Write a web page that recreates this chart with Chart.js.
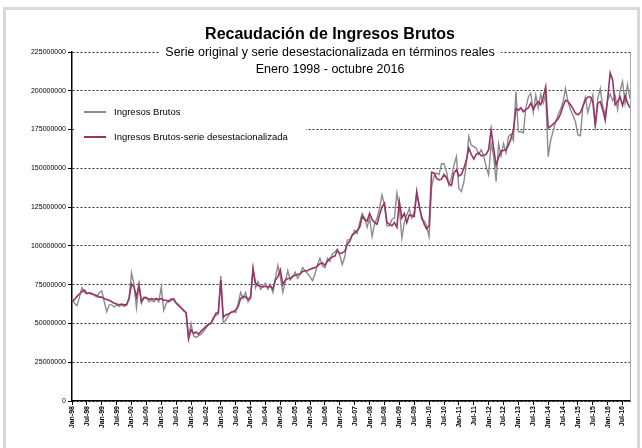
<!DOCTYPE html>
<html>
<head>
<meta charset="utf-8">
<script src="https://cdn.jsdelivr.net/npm/chart.js@4.4.1/dist/chart.umd.min.js"></script>
<style>
  body { margin: 0; background: #fff; }
  canvas { display: block; }
</style>
</head>
<body>
<canvas id="ingresosChart" width="642" height="448"></canvas>
<script>
// Monthly categories: Jan-98 ... Oct-16
const monthNames = ['Jan', 'Feb', 'Mar', 'Apr', 'May', 'Jun', 'Jul', 'Aug', 'Sep', 'Oct', 'Nov', 'Dec'];
const firstYear = 1998;
const lastYear = 2016;
const lastMonth = 10;

// Ingresos Brutos (serie original), millones de pesos
const ingresosBrutos = [
  66, 63, 61.5, 67, 73, 70, 69, 70, 69.5, 68, 67, 70,
  71, 64, 57.5, 62, 62, 60.5, 62, 61, 62, 61, 62, 66,
  82.5, 75, 60, 75, 63, 67, 67, 64, 65, 64, 66, 64,
  73.5, 58.5, 63, 65, 66, 65, 63.5, 62, 60, 58, 57, 41,
  50, 42, 41, 42, 43, 45, 47, 49, 50, 54, 55, 56,
  80.5, 50.5, 52, 55, 57, 58, 57, 63, 70, 66, 70, 64,
  66, 86, 73, 77, 72, 74, 76, 72, 75, 70, 79, 87.5,
  80, 70, 77, 84, 78, 80, 83, 79, 82, 86, 84, 82,
  80, 77.5, 82, 88, 92, 87, 86, 92, 90, 95, 96, 98,
  94, 88, 93, 103.8, 104, 107, 110, 108, 115, 121, 118, 112,
  118, 106, 114, 118, 124, 133, 126, 113, 113, 117, 118, 134,
  125, 105, 115, 120, 124, 118, 122, 134, 127, 117, 116, 113,
  106, 138, 145, 147, 146, 153, 153, 148, 139, 144, 152, 157.5,
  137, 135, 141, 153, 170.4, 165, 164, 163, 159, 162, 158, 151,
  145.7, 166, 158, 141.4, 166, 158, 166, 160, 170.4, 172, 168, 199.5,
  173.6, 173.6, 173, 188.6, 196, 198.4, 186, 197.3, 189, 197.8, 192, 197.8,
  157.5, 168, 174, 180, 184.4, 188, 193, 201.5, 193, 188, 184, 180,
  171.5, 171, 190, 195.8, 186, 192, 197.3, 177, 195, 201.5, 190, 184,
  194, 198, 193.6, 197, 188, 200, 206, 192, 204, 195
];

// Ingresos Brutos - serie desestacionalizada, millones de pesos
const ingresosDesest = [
  64, 65.5, 67.5, 69, 70.5, 71.5, 69.5, 69.5, 69, 68.5, 68, 67,
  67, 66, 65.5, 65, 64, 63, 62.5, 62, 62.5, 62, 62, 66,
  75.5, 73.5, 67, 75, 64, 66.5, 66.5, 65.5, 66, 65.5, 66, 65.5,
  66, 65, 65, 64, 65, 66, 63, 61.5, 60, 58.5, 57, 40,
  46, 43.5, 44.5, 43, 45, 46.5, 48, 49.5, 50, 53, 56.5, 57,
  78, 54, 55.5, 56, 57, 57.5, 58.5, 61, 66, 67.5, 67, 65.5,
  67, 85, 76, 74.5, 74, 73.5, 74, 73.5, 74, 72, 78, 80,
  84.5, 75, 78, 79, 79, 80.5, 81, 81.5, 82, 83.5, 84, 84,
  85, 85.5, 86, 87, 88.5, 89, 87.5, 90, 92, 93, 93.5, 97,
  95, 95.5, 96.5, 101, 103, 107, 108, 110, 112, 119, 117, 116,
  121, 117, 115, 114, 120, 125, 127.5, 115, 114, 113, 115, 112,
  128.5, 118, 121, 115, 120, 119.5, 119, 135, 125, 119, 114, 111,
  113, 147.5, 147, 143.5, 142.5, 143, 146, 144, 140, 139, 147, 149,
  145, 146, 150, 155, 163, 159, 156, 159, 160, 158, 158.5, 159,
  162, 175, 163, 152, 157, 161, 161.5, 162, 165, 169, 175, 188.5,
  187.5, 189, 186.5, 188, 189, 192, 188, 191, 193, 191, 196, 202.5,
  176, 177, 178.5, 180, 182, 185, 190, 194, 193, 191, 188.5, 185.5,
  184.5, 186, 190, 194, 196, 196, 193, 178, 192, 193, 188, 181,
  195, 211.5, 207, 191, 193, 196, 190.5, 197, 192, 189
];

// Y axis ticks (millones) and their printed labels
const yTicks = [0, 25, 50, 75, 100, 125, 150, 175, 200, 225];
const yTickLabels = ['0', '25000000', '50000000', '75000000', '100000000',
  '125000000', '150000000', '175000000', '200000000', '225000000'];

const titleText = 'Recaudación de Ingresos Brutos';
const subtitleLines = ['Serie original y serie desestacionalizada en términos reales',
  'Enero 1998 - octubre 2016'];
const legendLabels = ['Ingresos Brutos', 'Ingresos Brutos-serie desestacionalizada'];

const GRAY = '#8c8c8c';
const PLUM = '#993366';

// build the month labels
const labels = [];
for (let y = firstYear; y <= lastYear; y++) {
  const maxM = (y === lastYear) ? lastMonth : 12;
  for (let m = 0; m < maxM; m++) {
    labels.push(monthNames[m] + '-' + String(y).slice(2));
  }
}

const FONT = '"Liberation Sans", Arial, sans-serif';

// Title, subtitle, legend and frame drawn on top of the grid
const decorPlugin = {
  id: 'decor',
  beforeDraw(chart) {
    const ctx = chart.ctx;
    ctx.save();
    ctx.fillStyle = '#ffffff';
    ctx.fillRect(0, 0, chart.width, chart.height);
    ctx.restore();
  },
  afterDraw(chart) {
    const ctx = chart.ctx;
    const area = chart.chartArea;
    ctx.save();

    // right border of plot area
    ctx.strokeStyle = '#a6a6a6';
    ctx.lineWidth = 1;
    ctx.beginPath();
    ctx.moveTo(area.right + 0.5, area.top);
    ctx.lineTo(area.right + 0.5, area.bottom);
    ctx.stroke();

    // title
    const cx = 330;
    ctx.fillStyle = '#000';
    ctx.textAlign = 'center';
    ctx.textBaseline = 'middle';
    ctx.font = 'bold 16px ' + FONT;
    ctx.fillText(titleText, cx, 35);

    // subtitle with white box over the grid
    ctx.font = '12.5px ' + FONT;
    const w = ctx.measureText(subtitleLines[0]).width + 12;
    ctx.fillStyle = '#fff';
    ctx.fillRect(cx - w / 2, 45, w, 36);
    ctx.fillStyle = '#000';
    ctx.fillText(subtitleLines[0], cx, 53);
    ctx.fillText(subtitleLines[1], cx, 70);

    // legend
    ctx.fillStyle = '#fff';
    ctx.fillRect(area.left + 2, 98, 232, 52);
    const lx = area.left + 12;
    const rows = [[legendLabels[0], GRAY, 112], [legendLabels[1], PLUM, 137]];
    ctx.textAlign = 'left';
    ctx.font = '9.5px ' + FONT;
    rows.forEach(r => {
      ctx.strokeStyle = r[1];
      ctx.lineWidth = 2;
      ctx.beginPath();
      ctx.moveTo(lx, r[2]);
      ctx.lineTo(lx + 22, r[2]);
      ctx.stroke();
      ctx.fillStyle = '#000';
      ctx.fillText(r[0], lx + 30, r[2] + 0.5);
    });

    // outer frame
    ctx.strokeStyle = '#d9d9d9';
    ctx.lineWidth = 3;
    ctx.strokeRect(4.5, 8.5, 634, 445);
    ctx.restore();
  }
};

const ctxIngresos = document.getElementById('ingresosChart').getContext('2d');
const ingresosChart = new Chart(ctxIngresos, {
  type: 'line',
  data: {
    labels: labels,
    datasets: [{
      label: legendLabels[1],
      data: ingresosDesest,
      borderColor: PLUM,
      borderWidth: 1.6,
      pointRadius: 0,
      tension: 0,
      order: 0
    }, {
      label: legendLabels[0],
      data: ingresosBrutos,
      borderColor: GRAY,
      borderWidth: 1.4,
      pointRadius: 0,
      tension: 0,
      order: 1
    }]
  },
  options: {
    responsive: false,
    devicePixelRatio: 1,
    animation: false,
    layout: { padding: { top: 52, right: 12, left: 0, bottom: 0 } },
    plugins: {
      legend: { display: false },
      title: { display: false },
      tooltip: { enabled: false }
    },
    scales: {
      x: {
        offset: false,
        afterFit(scale) { scale.height = 47; },
        border: { color: '#000', width: 1.5 },
        grid: {
          drawOnChartArea: false,
          tickLength: 4,
          color: c => (c.index % 6 === 0 ? '#000' : 'rgba(0,0,0,0)')
        },
        ticks: {
          autoSkip: false,
          minRotation: 90,
          maxRotation: 90,
          padding: 1,
          color: '#000',
          font: { family: FONT, size: 7, weight: 'bold' },
          callback: (v, i) => (i % 6 === 0 ? labels[i] : '')
        }
      },
      y: {
        min: 0,
        max: 225,
        afterFit(scale) { scale.width = 72; },
        afterBuildTicks(scale) { scale.ticks = yTicks.map(v => ({ value: v })); },
        border: { color: '#000', width: 1.5, dash: [2, 2] },
        grid: {
          color: '#333',
          lineWidth: 1,
          tickLength: 4,
          tickColor: '#000',
          tickBorderDash: []
        },
        ticks: {
          padding: 2,
          color: '#000',
          font: { family: FONT, size: 7 },
          callback: (v) => yTickLabels[yTicks.indexOf(v)]
        }
      }
    }
  },
  plugins: [decorPlugin]
});
</script>
</body>
</html>
